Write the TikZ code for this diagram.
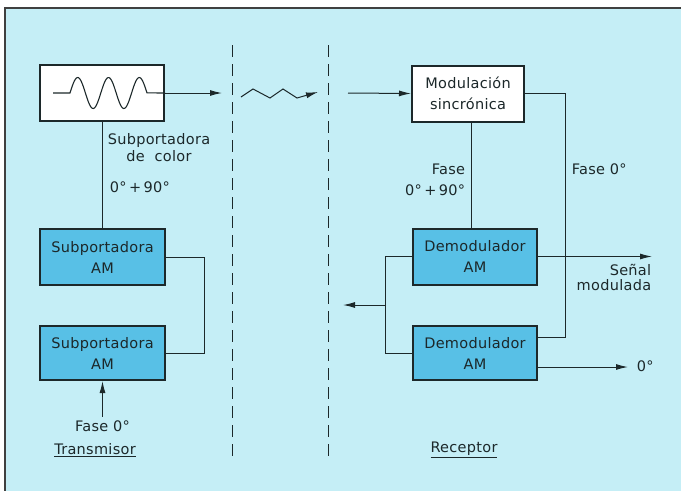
\documentclass[tikz,border=0pt]{standalone}
\usepackage{fontspec}
\setmainfont{DejaVu Sans}[LetterSpace=2]
\usetikzlibrary{positioning, arrows.meta}
\definecolor{fondo}{RGB}{197,238,246}
\definecolor{azul}{RGB}{88,192,230}
\definecolor{tinta}{RGB}{28,40,42}

\begin{document}
\begin{tikzpicture}[x=1pt, y=-1pt, line width=1pt, color=tinta,
    font=\fontsize{14.5}{21}\selectfont,
    bloque/.style={rectangle, draw=tinta, line width=2pt, minimum width=124pt,
        minimum height=56pt, align=center, inner sep=0pt},
    blanco/.style={bloque, fill=white},
    am/.style={bloque, fill=azul},
    flecha/.style={-{Latex[length=12pt,width=6pt]}},
    corte/.style={dash pattern=on 12pt off 7pt, line width=1pt}]
    \useasboundingbox (0,0) rectangle (681,491);
    \fill[white] (0,0) rectangle (681,491);
    \fill[fondo] (5,8) rectangle (681,491);
    \draw[line width=1.5pt, gray!50!black] (681,8) -- (5,8) -- (5,491);

    % transmisor
    \node[blanco] (osc) at (102,93) {};
    \draw[line width=1.1pt] (53,93) -- plot[domain=0:2.5, samples=90]
        ({70+30.8*\x},{93-15.5*sin(360*\x)}) -- (osc.east);
    \node[am, minimum width=125pt] (sub1) at (102.5,257) {Subportadora\\AM};
    \node[am, minimum width=125pt, minimum height=54pt] (sub2) at (102.5,353) {Subportadora\\AM};
    \node (fase1) at (102.5,426) {Fase 0°};
    \node[align=center, font=\fontsize{14.5}{17}\selectfont] (color) at (159,148) {Subportadora\\de\ \ color};
    \node[anchor=west] (fases) at (106,187) {0°\,+\,90°};
    \node (trans) at (95,450) {\underline{Transmisor}};

    \coordinate (tx) at (222,93);
    \draw[flecha] (osc.east) -- (tx);
    \draw (osc.south) -- (osc.south |- sub1.north);
    \draw (sub1.east) -- ++(38,0) |- (sub2.east);
    \draw[flecha] (fase1.north) -- (sub2.south);

    % canal
    \draw[corte] (232,45) -- (232,458);
    \draw[corte] (328,45) -- (328,458);
    \draw[flecha] (241,97) -- (253,89) -- (270,98) -- (283,89) -- (297,98) -- (318,92);

    % receptor
    \node[blanco, minimum width=112pt] (mod) at (468,93.5) {Modulación\\sincrónica};
    \node[am] (dem1) at (475,256.5) {Demodulador\\AM};
    \node[am, minimum height=54pt] (dem2) at (475,353) {Demodulador\\AM};
    \node[align=right, anchor=east] (fase2) at (469,180) {Fase\\0°\,+\,90°};
    \node[anchor=west] (fase3) at (568,169) {Fase 0°};
    \node[align=right, anchor=north east, font=\fontsize{14.5}{15}\selectfont] (senal) at (655,260) {Señal\\modulada};
    \node[anchor=west] (cero) at (633,366) {0°};
    \node (rec) at (464,450) {\underline{Receptor}};

    \coordinate (rx) at (348,93);
    \coordinate (f0) at (565,337);
    \coordinate (out1) at (652,256.5);
    \coordinate (out2) at (628,367);
    \coordinate (br) at (386,305);
    \coordinate (bo) at (343,305);
    \draw[flecha] (rx) -- (mod.west);
    \draw ([xshift=3pt]mod.south) -- ([xshift=3pt]mod.south |- dem1.north);
    \draw (mod.east) -| (f0) -- (f0 -| dem2.east);
    \draw[flecha] (dem1.east) -- (out1);
    \draw[flecha] ([yshift=-14pt]dem2.east) -- (out2);
    \draw (dem1.west) -- ++(-27,0) |- (dem2.west);
    \draw[flecha] (br) -- (bo);
\end{tikzpicture}
\end{document}
